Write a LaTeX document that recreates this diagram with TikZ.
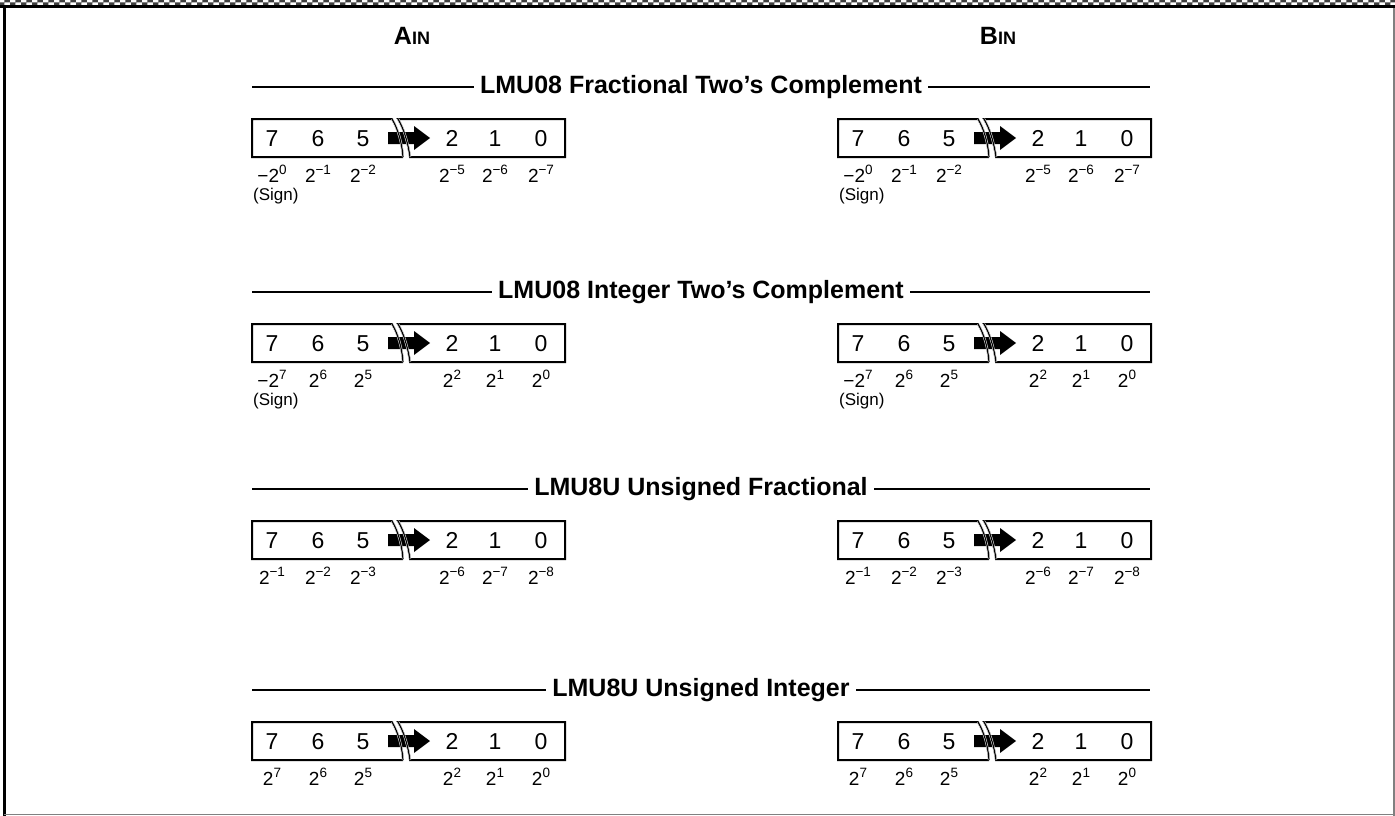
\documentclass[tikz,border=0pt]{standalone}
\usepackage{fontspec}
\setmainfont{Liberation Sans}
\usetikzlibrary{patterns}
\newcommand\sups[1]{\raisebox{0.42em}{\fontsize{13.5}{13.5}\selectfont #1}}
\newcommand\bitrow[9]{%
\begin{scope}[shift={(#2,#3)}]
  \draw[boxline] (151,70) -- (0,70) -- (0,32) -- (140,32) .. controls (146,42) and (150,56) .. (151,70);
  \draw[boxline] (146,32) .. controls (152,42) and (156,56) .. (158,70) -- (313,70) -- (313,32) -- cycle;
  \fill (136,45) -- (162,45) -- (162,39) -- (178,51) -- (162,63) -- (162,57) -- (136,57) -- cycle;
  \draw[halo] (140,32) .. controls (146,42) and (150,56) .. (151,70);
  \draw[halo] (146,32) .. controls (152,42) and (156,56) .. (158,70);
  \draw[breakline] (140,32) .. controls (146,42) and (150,56) .. (151,70);
  \draw[breakline] (146,32) .. controls (152,42) and (156,56) .. (158,70);
  \node[dig] (#1d7) at (20,59.5) {7};
  \node[dig] (#1d6) at (66,59.5) {6};
  \node[dig] (#1d5) at (111,59.5) {5};
  \node[dig] (#1d2) at (200,59.5) {2};
  \node[dig] (#1d1) at (243,59.5) {1};
  \node[dig] (#1d0) at (289,59.5) {0};
  \node[lab] (#1l7) at (20,95.5) {#4};
  \node[lab] (#1l6) at (66,95.5) {#5};
  \node[lab] (#1l5) at (111,95.5) {#6};
  \node[lab] (#1l2) at (200,95.5) {#7};
  \node[lab] (#1l1) at (243,95.5) {#8};
  \node[lab] (#1l0) at (289,95.5) {#9};
\end{scope}}
\begin{document}
\begin{tikzpicture}[x=1pt,y=-1pt,
  boxline/.style={line width=2pt},
  halo/.style={white,line width=2.2pt},
  breakline/.style={line width=1.2pt},
  dig/.style={font=\fontsize{23}{23}\selectfont,inner sep=0pt,anchor=base},
  lab/.style={font=\fontsize{19}{19}\selectfont,inner sep=0pt,anchor=base},
  sgn/.style={font=\fontsize{17}{17}\selectfont,inner sep=0pt,anchor=west},
  ttl/.style={font=\bfseries\fontsize{25}{25}\selectfont,fill=white,inner xsep=6pt,inner ysep=2pt},
  tline/.style={line width=1.5pt},
  hdr/.style={font=\bfseries\fontsize{25}{25}\selectfont,inner sep=0pt}]
\useasboundingbox (0,0) rectangle (1395,816);
\fill[white] (0,0) rectangle (1395,816);
% frame
\fill[pattern=checkerboard,pattern color=black!75] (0,0) rectangle (1395,5);
\draw[line width=3pt] (0,6.5) -- (1395,6.5);
\draw[line width=3pt] (4,5) -- (4,816);
\draw[gray,line width=1.5pt] (1394,8) -- (1394,816);
\draw[gray,line width=1.5pt] (4,814.5) -- (1395,814.5);
% headers
\node[hdr] (ain) at (412,36) {A{\fontsize{18}{18}\selectfont IN}};
\node[hdr] (bin) at (998,36) {B{\fontsize{18}{18}\selectfont IN}};
% section titles
\foreach \yy/\tt/\nm in {87/{LMU08 Fractional Two's Complement}/ta,292/{LMU08 Integer Two's Complement}/tb,489/{LMU8U Unsigned Fractional}/tc,690/{LMU8U Unsigned Integer}/td}{
  \draw[tline] (252,\yy) -- (1150,\yy);
  \node[ttl] (\nm) at (701,\yy) {\tt};
}
% rows
\bitrow{fa}{252}{87}{−2\sups{0}}{2\sups{−1}}{2\sups{−2}}{2\sups{−5}}{2\sups{−6}}{2\sups{−7}}
\bitrow{fb}{838}{87}{−2\sups{0}}{2\sups{−1}}{2\sups{−2}}{2\sups{−5}}{2\sups{−6}}{2\sups{−7}}
\node[sgn] (sfa) at (253,196) {(Sign)};
\node[sgn] (sfb) at (839,196) {(Sign)};
\bitrow{ia}{252}{292}{−2\sups{7}}{2\sups{6}}{2\sups{5}}{2\sups{2}}{2\sups{1}}{2\sups{0}}
\bitrow{ib}{838}{292}{−2\sups{7}}{2\sups{6}}{2\sups{5}}{2\sups{2}}{2\sups{1}}{2\sups{0}}
\node[sgn] (sia) at (253,401) {(Sign)};
\node[sgn] (sib) at (839,401) {(Sign)};
\bitrow{ua}{252}{489}{2\sups{−1}}{2\sups{−2}}{2\sups{−3}}{2\sups{−6}}{2\sups{−7}}{2\sups{−8}}
\bitrow{ub}{838}{489}{2\sups{−1}}{2\sups{−2}}{2\sups{−3}}{2\sups{−6}}{2\sups{−7}}{2\sups{−8}}
\bitrow{na}{252}{690}{2\sups{7}}{2\sups{6}}{2\sups{5}}{2\sups{2}}{2\sups{1}}{2\sups{0}}
\bitrow{nb}{838}{690}{2\sups{7}}{2\sups{6}}{2\sups{5}}{2\sups{2}}{2\sups{1}}{2\sups{0}}
\end{tikzpicture}
\end{document}
